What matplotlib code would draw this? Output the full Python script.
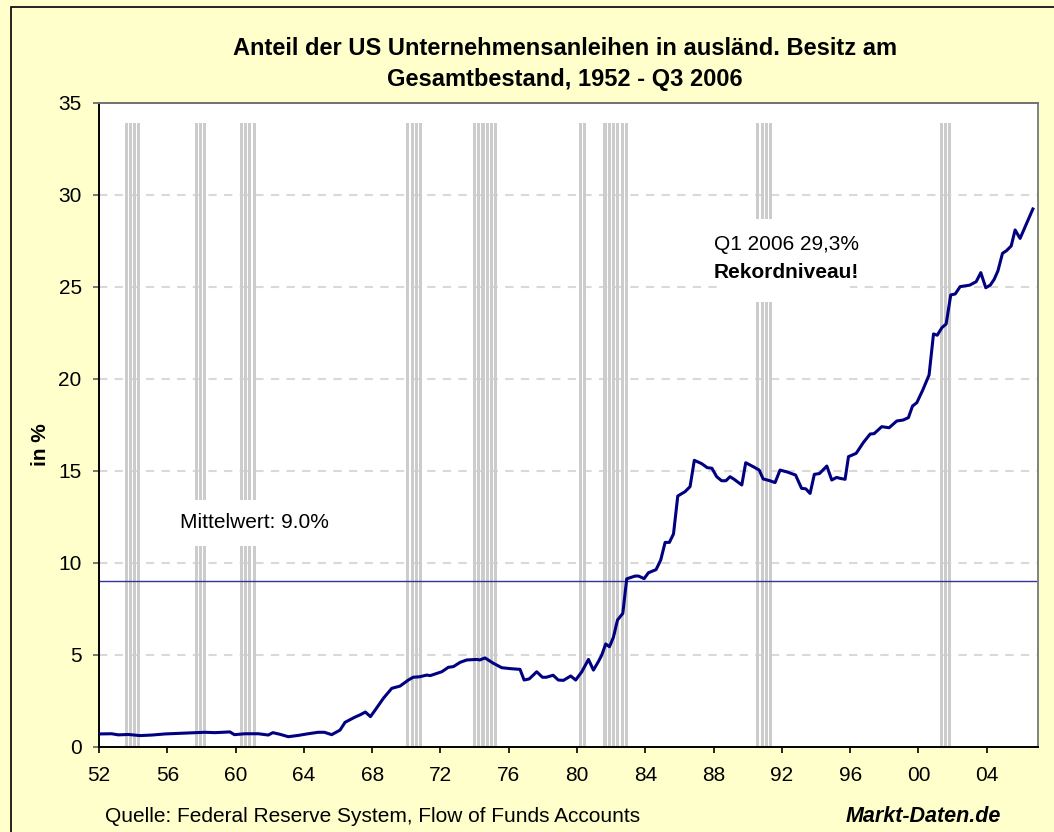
import matplotlib
matplotlib.use('Agg')
import matplotlib.pyplot as plt
from matplotlib.patches import Rectangle
import numpy as np

plt.rcParams['font.family'] = ['Liberation Sans', 'DejaVu Sans']

# share of US corporate bonds held by foreigners, in %
years = [1952.06, 1952.74, 1953.13, 1953.72, 1954.4, 1955.1, 1955.87, 1956.65,
         1957.62, 1958.2, 1958.8, 1959.67, 1959.93, 1960.55, 1961.33, 1961.92,
         1962.18, 1962.6, 1963.09, 1963.67, 1964.25, 1964.84, 1965.2, 1965.63,
         1966.12, 1966.41, 1966.96, 1967.3, 1967.6, 1967.9, 1968.17, 1968.66,
         1969.15, 1969.63, 1970.12, 1970.4, 1970.8, 1971.2, 1971.4, 1972.08,
         1972.46, 1972.76, 1973.15, 1973.54, 1974.13, 1974.3, 1974.61, 1975.1,
         1975.59, 1976.08, 1976.66, 1976.9, 1977.2, 1977.64, 1977.97, 1978.2,
         1978.6, 1978.9, 1979.2, 1979.63, 1979.92, 1980.28, 1980.67, 1980.96,
         1981.25, 1981.45, 1981.68, 1981.9, 1982.13, 1982.37, 1982.68, 1982.91,
         1983.4, 1983.6, 1983.93, 1984.18, 1984.63, 1984.9, 1985.16, 1985.41,
         1985.65, 1985.9, 1986.33, 1986.62, 1986.87, 1987.3, 1987.63, 1987.9,
         1988.18, 1988.47, 1988.72, 1988.96, 1989.2, 1989.65, 1989.88, 1990.33,
         1990.67, 1990.9, 1991.3, 1991.6, 1991.89, 1992.3, 1992.8, 1993.15,
         1993.4, 1993.65, 1993.9, 1994.2, 1994.63, 1994.92, 1995.2, 1995.41,
         1995.7, 1995.9, 1996.35, 1996.78, 1997.17, 1997.4, 1997.85, 1998.28,
         1998.73, 1999.1, 1999.41, 1999.65, 1999.9, 2000.25, 2000.62, 2000.88,
         2001.1, 2001.37, 2001.62, 2001.89, 2002.15, 2002.44, 2002.77, 2003.0,
         2003.38, 2003.65, 2003.94, 2004.2, 2004.43, 2004.65, 2004.92, 2005.15,
         2005.43, 2005.66, 2005.95, 2006.25, 2006.7]
share = [0.71, 0.72, 0.66, 0.68, 0.62, 0.65, 0.71, 0.74,
         0.78, 0.80, 0.78, 0.82, 0.67, 0.72, 0.72, 0.65,
         0.78, 0.69, 0.56, 0.63, 0.72, 0.80, 0.80, 0.67,
         0.92, 1.34, 1.61, 1.75, 1.90, 1.65, 2.00, 2.65,
         3.19, 3.31, 3.64, 3.79, 3.82, 3.91, 3.88, 4.09,
         4.33, 4.37, 4.60, 4.73, 4.76, 4.73, 4.84, 4.55,
         4.31, 4.26, 4.22, 3.64, 3.70, 4.09, 3.79, 3.79,
         3.90, 3.64, 3.62, 3.86, 3.64, 4.09, 4.76, 4.18,
         4.64, 5.00, 5.60, 5.45, 5.96, 6.90, 7.26, 9.14,
         9.29, 9.29, 9.15, 9.47, 9.64, 10.16, 11.12, 11.12,
         11.58, 13.64, 13.88, 14.15, 15.58, 15.40, 15.18, 15.15,
         14.69, 14.47, 14.47, 14.69, 14.55, 14.24, 15.45, 15.23,
         15.05, 14.57, 14.47, 14.37, 15.05, 14.95, 14.78, 14.06,
         14.03, 13.78, 14.82, 14.86, 15.27, 14.51, 14.65, 14.60,
         14.55, 15.78, 15.96, 16.56, 17.01, 17.03, 17.41, 17.35,
         17.72, 17.77, 17.90, 18.53, 18.71, 19.40, 20.22, 22.45,
         22.38, 22.79, 22.99, 24.57, 24.62, 25.02, 25.07, 25.10,
         25.29, 25.78, 24.96, 25.10, 25.41, 25.87, 26.83, 26.97,
         27.23, 28.10, 27.64, 28.28, 29.24]

mean_value = 9.0

# recession periods (start, end) shown as grey quarterly bars
rec_start = [1953.5, 1957.6, 1960.25, 1970.0, 1973.9, 1980.1, 1981.55, 1990.5, 2001.25]
rec_end = [1954.5, 1958.35, 1961.25, 1971.0, 1975.4, 1980.6, 1983.0, 1991.3, 2002.0]
rec_height = 33.9

xticks = list(range(1952, 2005, 4))
xlabels = ['%02d' % (t % 100) for t in xticks]

fig = plt.figure(figsize=(10.54, 8.32), dpi=100)
fig.patch.set_facecolor('#ffffcc')
fig.patches.append(Rectangle((11/1054, -0.05), 1.1, 1 - 7/832 + 0.05,
                             transform=fig.transFigure, fill=False,
                             edgecolor='black', linewidth=1.2))

ax = fig.add_axes([99/1054, 85/832, 939/1054, 644/832])
ax.set_facecolor('white')

for s, e in zip(rec_start, rec_end):
    q = np.arange(s, e, 0.25)
    ax.bar(q, rec_height, width=0.18, align='edge', color='#cccccc',
           edgecolor='none', zorder=1)

for yv in range(5, 35, 5):
    ax.axhline(yv, color='#d9d9d9', lw=1.5, ls=(0, (4, 3.5)), zorder=0.5)

ax.axhline(mean_value, color='#333399', lw=1.0, zorder=2)
ax.plot(years, share, color='#000080', lw=2.2, zorder=3)

# white label backgrounds (they cut the recession bars in the original)
ax.add_patch(Rectangle((1956.5, 10.9), 9.0, 2.55, facecolor='white',
                       edgecolor='none', zorder=3.5))
ax.add_patch(Rectangle((1988.5, 24.2), 7.5, 4.5, facecolor='white',
                       edgecolor='none', zorder=3.5))

ax.text(1961.08, 12.2, 'Mittelwert: 9.0%', ha='center', va='center',
        fontsize=15, zorder=4)
ax.text(1992.25, 27.3, 'Q1 2006 29,3%', ha='center', va='center',
        fontsize=15, zorder=4)
ax.text(1992.25, 25.8, 'Rekordniveau!', ha='center', va='center',
        fontsize=15, fontweight='bold', zorder=4)

ax.set_xlim(1952, 2007)
ax.set_ylim(0, 35)
ax.set_yticks(range(0, 36, 5))
ax.set_xticks(xticks)
ax.set_xticklabels(xlabels)
ax.tick_params(axis='both', labelsize=15, direction='out', length=4.5,
               width=1.2)
ax.tick_params(axis='y', pad=8, color='#606060')
ax.tick_params(axis='x', pad=9)

ax.spines['left'].set_color('black')
ax.spines['bottom'].set_color('black')
ax.spines['top'].set_color('#707070')
ax.spines['right'].set_color('#808080')
for sp in ax.spines.values():
    sp.set_linewidth(1.4)

fig.text(565/1054, 1 - 64/832,
         'Anteil der US Unternehmensanleihen in ausländ. Besitz am\nGesamtbestand, 1952 - Q3 2006',
         ha='center', va='center', fontsize=17, fontweight='bold',
         linespacing=1.45)
fig.text(40/1054, 1 - 445/832, 'in %', rotation=90, ha='center', va='center',
         fontsize=15, fontweight='bold')
fig.text(105/1054, 1 - 816/832, 'Quelle: Federal Reserve System, Flow of Funds Accounts',
         ha='left', va='center', fontsize=15)
fig.text(1001/1054, 1 - 816/832, 'Markt-Daten.de', ha='right', va='center',
         fontsize=15.5, fontweight='bold', fontstyle='italic')

plt.savefig('out.png', dpi=100, facecolor=fig.get_facecolor())
